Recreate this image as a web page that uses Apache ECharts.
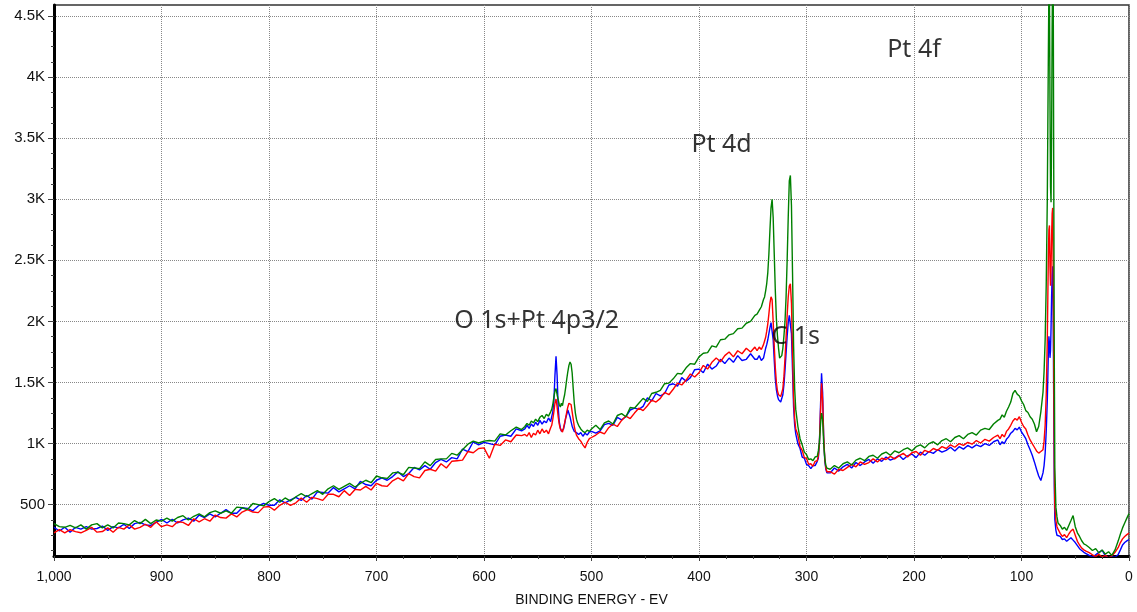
<!DOCTYPE html>
<html>
<head>
<meta charset="utf-8">
<title>XPS survey</title>
<script src="https://cdn.jsdelivr.net/npm/echarts@6.0.0/dist/echarts.min.js"></script>
<style>
  html, body { margin: 0; padding: 0; background: #fff; }
  #spectrum { width: 1137px; height: 612px; }
</style>
</head>
<body>
<div id="spectrum"></div>
<script>
// binding energy (eV) of every sample, high to low
var energy = [
  // 1000 - 565
  1000,995,990,985,980,975,970,965,960,955,950,945,940,935,930,925,920,915,910,905,
  900,895,890,885,880,875,870,865,860,855,850,845,840,835,830,825,820,815,810,805,
  800,795,790,785,780,775,770,765,760,755,750,745,740,735,730,725,720,715,710,705,
  700,695,690,685,680,675,670,665,660,655,650,645,640,635,630,625,620,615,610,605,
  600,595,590,585,580,575,570,565,
  // O 1s region
  562,560,558,556,554,552,550,548,546,544,542,540,538,537,536,535,534,533,532,531,
  530,529,528,527,526,525,524,523,522,521,520,519,518,517,516,515,514,513,512,510,
  508,506,504,502,
  // 500 - 348
  500,496,492,488,484,480,476,472,468,464,460,456,452,448,444,440,436,432,428,424,
  420,416,412,408,404,400,396,392,388,384,380,376,372,368,364,360,356,352,348,
  // Pt 4d + C 1s
  346,344,342,340,339,338,337,336,335,334,333,332,331,330,329,328,327,326,325,324,
  323,322,321,320,319,318,317,316,315,314,313,312,311,310,308,306,304,302,300,298,
  296,294,292,290,289,288,287,286,285,284,283,282,281,280,
  // 278 - 122
  278,274,270,266,262,258,254,250,246,242,238,234,230,226,222,218,214,210,206,202,
  198,194,190,186,182,178,174,170,166,162,158,154,150,146,142,138,134,130,126,122,
  // Pt 4f and valence
  120,118,116,114,112,110,108,106,104,102,100,98,96,94,92,90,88,86,84,82,
  80,79,78,77,76,75.5,75,74.5,74,73.5,73,72.5,72,71.5,71,70.5,70,69.5,69,68,
  67,66,64,62,60,58,56,54,52,50,48,46,44,42,40,37,34,31,28,25,
  22,19,16,13,10,8,6,4,2,0
];

var blueCounts = [
  315,285,315,275,315,300,320,300,305,325,290,320,310,340,305,345,355,335,330,355,
  380,350,380,350,375,390,365,415,395,425,400,430,460,430,430,475,470,450,490,510,
  495,495,540,515,540,560,535,575,545,605,600,595,640,605,630,655,630,690,665,655,
  700,720,700,730,770,730,755,805,785,820,790,845,870,850,885,875,955,935,1015,990,
  1010,1000,990,1060,1070,1060,1120,1105,
  1120,1150,1125,1160,1140,1175,1150,1190,1160,1185,1170,1210,1180,1220,1260,1350,1560,1714,1560,1300,
  1180,1130,1100,1086,1120,1160,1210,1240,1276,1260,1220,1180,1143,1120,1100,1110,1090,1100,1075,1090,
  1060,1085,1070,1095,
  1100,1085,1105,1155,1165,1150,1215,1195,1220,1275,1290,1280,1305,1375,1350,1410,1390,1410,1480,1490,
  1470,1540,1510,1540,1605,1610,1580,1650,1610,1635,1690,1655,1700,1665,1720,1680,1690,1735,1690,
  1690,1720,1680,1700,1740,1780,1810,1850,1900,1950,1990,1980,1850,1680,1530,1440,1390,1360,1350,1340,
  1345,1400,1480,1600,1740,1880,1990,2050,2063,1900,1600,1300,1150,1080,1000,960,890,880,830,820,
  795,820,820,855,880,1000,1300,1575,1420,1050,860,790,760,750,
  760,800,775,810,830,800,845,820,850,870,840,875,855,890,865,880,905,870,900,915,
  885,930,905,935,920,950,930,945,970,940,975,955,985,965,990,975,1000,985,1015,1030,
  990,1015,1000,1035,1055,1085,1100,1125,1112,1135,1095,1070,1040,990,950,905,850,790,735,698,
  760,820,920,1100,1350,1550,1750,1879,1820,1702,1760,1950,2200,2380,2451,2050,1300,650,380,290,
  250,240,240,215,220,200,215,230,210,190,165,140,125,110,100,85,70,90,110,127,
  80,65,75,70,93,130,170,190,204,215
];

var redCounts = [
  270,295,270,295,280,270,290,315,275,280,310,275,315,300,335,300,315,340,315,360,
  320,335,320,360,355,330,385,360,385,365,415,395,390,425,400,440,460,440,435,480,
  485,455,495,520,495,515,555,520,560,550,535,585,585,565,615,575,625,620,650,620,
  675,655,650,695,720,695,755,730,720,780,790,775,835,800,855,860,865,935,925,960,
  965,880,995,985,1030,1015,1070,1065,
  1075,1060,1090,1050,1085,1070,1110,1080,1120,1090,1110,1080,1130,1150,1200,1260,1330,1365,1300,1220,
  1160,1120,1110,1095,1130,1170,1210,1260,1300,1330,1345,1320,1260,1200,1140,1100,1070,1080,1040,1020,
  990,965,1010,1040,
  1050,1070,1095,1080,1130,1160,1140,1190,1225,1205,1250,1290,1270,1310,1355,1340,1370,1420,1400,1445,
  1495,1480,1520,1570,1545,1580,1640,1610,1665,1700,1670,1720,1750,1710,1760,1735,1780,1750,1790,
  1760,1790,1770,1810,1840,1870,1920,1980,2060,2150,2202,2180,2000,1800,1620,1500,1430,1400,1390,1385,
  1395,1450,1550,1700,1870,2050,2200,2290,2308,2150,1750,1380,1200,1120,1070,975,945,885,880,830,
  835,815,855,860,900,1000,1250,1494,1350,1050,880,800,770,760,
  770,750,790,780,805,830,810,850,830,845,875,850,880,870,895,875,900,920,890,925,
  935,905,945,930,960,945,975,960,990,970,1000,985,1010,995,1025,1005,1035,1020,1050,1070,
  1040,1075,1055,1100,1120,1150,1185,1205,1192,1220,1175,1140,1120,1070,1030,1000,970,940,922,935,
  950,1020,1150,1400,1850,2200,2550,2750,2786,2450,2292,2450,2700,2880,2929,2400,1600,850,480,370,
  320,300,265,240,255,230,260,285,300,250,200,170,145,130,120,108,90,75,95,70,
  85,65,80,110,150,190,220,240,255,267
];

var greenCounts = [
  345,320,315,330,310,335,300,335,345,310,335,310,350,345,335,370,345,380,345,375,
  365,390,365,395,410,375,405,425,400,435,450,430,450,430,480,475,460,510,500,490,
  525,550,520,555,530,565,590,565,590,615,585,630,655,625,650,675,645,675,700,680,
  735,720,715,760,765,745,805,800,795,850,820,870,875,875,920,905,950,995,1020,1005,
  1020,1025,1020,1080,1070,1105,1135,1115,
  1140,1165,1150,1185,1170,1200,1180,1215,1230,1205,1240,1225,1260,1280,1320,1380,1430,1450,1400,1360,
  1320,1300,1330,1310,1360,1400,1460,1530,1590,1640,1668,1650,1580,1450,1330,1250,1200,1170,1150,1120,
  1100,1090,1110,1100,
  1120,1150,1115,1170,1185,1160,1230,1245,1220,1295,1290,1330,1370,1345,1410,1420,1435,1490,1495,1530,
  1575,1570,1620,1655,1650,1710,1740,1745,1800,1790,1850,1855,1890,1900,1940,1945,1985,2000,2050,
  2060,2090,2120,2180,2200,2250,2310,2400,2550,2750,2930,3000,2850,2550,2250,2020,1880,1780,1700,1690,
  1720,1780,1880,2000,2200,2500,2850,3150,3195,2950,2400,1800,1450,1280,1140,1040,990,930,910,870,
  875,860,890,895,940,1010,1150,1250,1200,1000,880,820,800,790,
  790,820,800,835,850,825,865,880,860,895,905,880,915,930,905,940,925,950,965,940,
  975,990,965,1000,1015,990,1025,1040,1015,1050,1065,1040,1075,1090,1070,1110,1125,1115,1160,1190,
  1200,1235,1215,1265,1300,1340,1410,1435,1405,1390,1350,1320,1270,1255,1220,1200,1160,1097,1140,1260,
  1420,1590,1850,2300,3000,3600,4200,4750,4700,3800,3100,2976,3500,4400,4900,4800,3200,1700,800,480,
  400,350,330,300,315,290,330,370,411,320,270,240,205,180,170,150,125,141,105,130,
  95,115,85,130,204,260,310,350,390,427
];

// y axis: labelled ticks and the small ticks between them
var yTickValues = [500,1000,1500,2000,2500,3000,3500,4000,4500];
var yMinorValues = [125,250,375,625,750,875,1125,1250,1375,1625,1750,1875,2125,2250,2375,
  2625,2750,2875,3125,3250,3375,3625,3750,3875,4125,4250,4375];

// peak annotations (text, energy, counts)
var peakNames = ["Pt 4f", "Pt 4d", "O 1s+Pt 4p3/2", "C 1s"];
var peakEnergy = [200, 379, 551, 310];
var peakCounts = [4225, 3447, 2006, 1875];

function pairs(ys) {
  return energy.map(function (e, i) { return [e, ys[i]]; });
}

var chart = echarts.init(document.getElementById("spectrum"));

var lineSeries = function (name, color, ys) {
  return {
    name: name,
    type: "line",
    data: pairs(ys),
    showSymbol: false,
    symbol: "none",
    lineStyle: { color: color, width: 1.4 },
    itemStyle: { color: color },
    animation: false
  };
};

var option = {
  backgroundColor: "#fff",
  animation: false,
  grid: {
    left: 54,
    right: 8,
    top: 5,
    bottom: 51,
    show: true,
    borderColor: "#333",
    borderWidth: 1.5
  },
  xAxis: {
    type: "value",
    inverse: true,
    min: 0,
    max: 1000,
    interval: 100,
    name: "BINDING ENERGY - EV",
    nameLocation: "middle",
    nameGap: 37,
    nameTextStyle: { fontFamily: "Liberation Sans", fontSize: 14, color: "#111" },
    axisLine: { onZero: false, lineStyle: { color: "#000", width: 3 } },
    axisTick: { length: 5, lineStyle: { color: "#444" } },
    minorTick: { show: true, splitNumber: 4, length: 3, lineStyle: { color: "#444" } },
    axisLabel: {
      fontFamily: "Liberation Sans",
      fontSize: 14,
      color: "#111",
      margin: 14,
      showMinLabel: true,
      showMaxLabel: true
    },
    splitLine: { show: true, lineStyle: { type: "dotted", color: "#888", width: 1 } }
  },
  yAxis: [
    {
      type: "value",
      min: 80,
      max: 4590,
      axisLine: { show: true, onZero: false, lineStyle: { color: "#000", width: 3 } },
      axisTick: { show: true, length: 6, customValues: yTickValues, lineStyle: { color: "#444" } },
      axisLabel: {
        customValues: yTickValues,
        fontFamily: "Liberation Sans",
        fontSize: 15,
        color: "#111",
        margin: 9,
        formatter: function (v) {
          return v >= 1000 ? (v / 1000) + "K" : String(v);
        }
      },
      splitLine: { show: true, lineStyle: { type: "dotted", color: "#888", width: 1 } }
    },
    {
      type: "value",
      min: 80,
      max: 4590,
      position: "left",
      axisLine: { show: false, onZero: false },
      axisTick: { show: true, length: 3, customValues: yMinorValues, lineStyle: { color: "#444" } },
      axisLabel: { show: false },
      splitLine: { show: false }
    }
  ],
  series: [
    lineSeries("blue", "#0000ff", blueCounts),
    lineSeries("red", "#ff0000", redCounts),
    lineSeries("green", "#008000", greenCounts),
    {
      name: "peaks",
      type: "scatter",
      symbolSize: 0,
      z: 10,
      data: peakNames.map(function (n, i) {
        return { name: n, value: [peakEnergy[i], peakCounts[i]] };
      }),
      label: {
        show: true,
        position: "inside",
        formatter: "{b}",
        fontFamily: "Noto Sans",
        fontSize: 25,
        color: "#000"
      },
      silent: true,
      animation: false
    }
  ]
};

chart.setOption(option);
</script>
</body>
</html>
